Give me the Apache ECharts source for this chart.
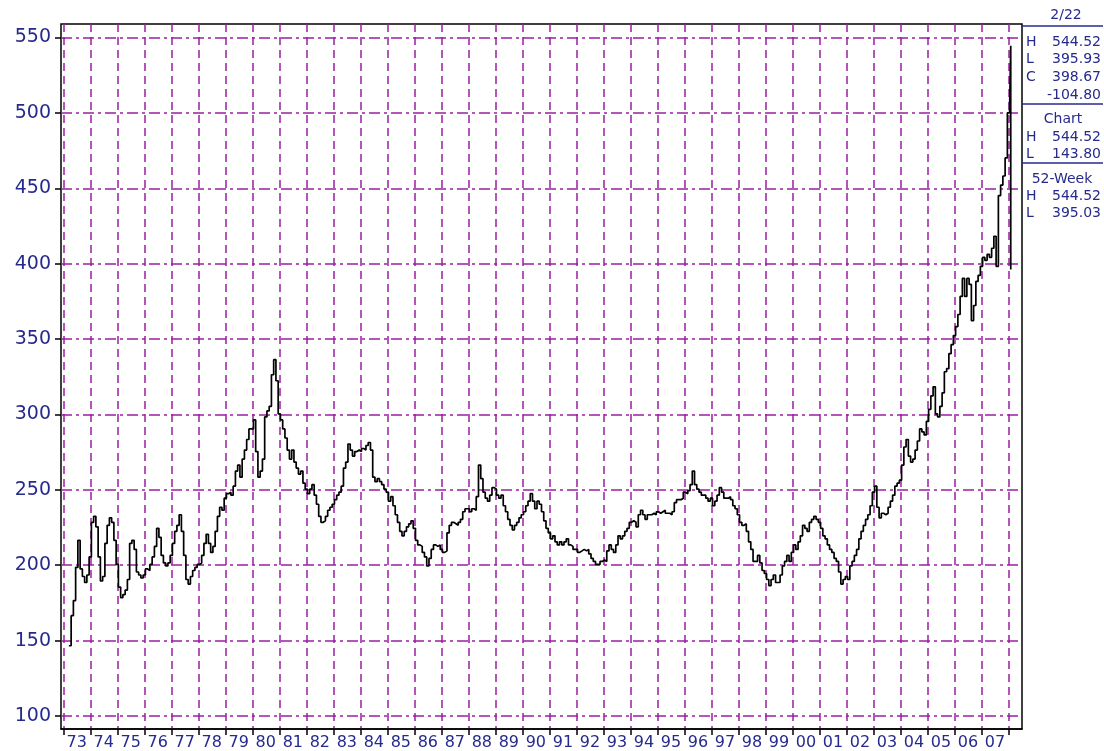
<!DOCTYPE html>
<html>
<head>
<meta charset="utf-8">
<script src="https://cdn.jsdelivr.net/npm/echarts@6/dist/echarts.min.js"></script>
<style>
  html, body { margin: 0; padding: 0; background: #fff; }
  #main { width: 1104px; height: 751px; }
</style>
</head>
<body>
<div id="main"></div>
<script>
// monthly index values, Jan of first year to Dec of last year
var close1970s = [
  null, null, null, 146, 166, 176, 198, 216, 197, 192, 188, 193,   // 73
  205, 228, 232, 225, 205, 189, 192, 214, 226, 231, 228, 216,      // 74
  200, 185, 178, 180, 183, 190, 214, 216, 210, 195, 193, 191,      // 75
  193, 197, 196, 200, 205, 212, 224, 218, 206, 201, 199, 201,      // 76
  206, 214, 222, 226, 233, 222, 206, 190, 187, 192, 196, 198,      // 77
  200, 201, 206, 214, 220, 214, 208, 212, 222, 232, 238, 236,      // 78
  244, 247, 248, 246, 252, 262, 266, 258, 270, 276, 283, 290       // 79
];
var close1980s = [
  290, 296, 275, 258, 262, 270, 298, 302, 305, 326, 336, 322,
  300, 296, 290, 284, 276, 270, 276, 268, 264, 260, 262, 254,
  250, 247, 250, 253, 246, 240, 232, 228, 229, 232, 236, 238,
  240, 243, 246, 248, 252, 264, 268, 280, 276, 272, 275, 276,
  275, 277, 276, 279, 281, 276, 258, 255, 257, 255, 253, 250,
  248, 242, 245, 239, 233, 228, 222, 219, 222, 225, 227, 229,
  224, 216, 213, 212, 208, 205, 199, 204, 210, 213, 212, 213,
  210, 208, 209, 221, 226, 228, 227, 226, 228, 230, 235, 237,
  237, 235, 237, 236, 245, 266, 257, 248, 244, 242, 246, 251,
  250, 246, 244, 246, 239, 235, 230, 226, 223, 226, 228, 231
];
var close1990s = [
  233, 235, 239, 242, 247, 242, 237, 242, 240, 235, 229, 224,
  221, 217, 219, 215, 213, 215, 213, 215, 217, 213, 212, 210,
  210, 208, 209, 210, 209, 210, 207, 204, 202, 200, 200, 202,
  203, 202, 209, 213, 210, 208, 213, 219, 217, 219, 222, 224,
  228, 229, 228, 225, 233, 236, 233, 230, 233, 233, 234, 233,
  235, 234, 235, 236, 234, 234, 233, 235, 241, 243, 243, 244,
  248, 247, 249, 253, 262, 253, 250, 248, 246, 246, 244, 242,
  244, 239, 242, 246, 251, 248, 244, 244, 245, 243, 239, 237,
  233, 228, 226, 227, 222, 215, 210, 202, 202, 206, 201, 196,
  194, 190, 186, 190, 193, 188, 188, 193, 199, 202, 206, 202
];
var close2000s = [
  208, 213, 210, 215, 219, 226, 224, 222, 228, 230, 232, 230,
  228, 224, 219, 217, 213, 210, 208, 204, 202, 195, 187, 190,
  192, 190, 199, 202, 206, 210, 217, 222, 226, 230, 233, 239,
  248, 252, 238, 231, 234, 233, 234, 238, 242, 246, 252, 254,
  256, 266, 278, 283, 272, 268, 270, 276, 282, 290, 288, 286,
  295, 303, 312, 318, 300, 298, 305, 314, 328, 330, 340, 346,
  352, 358, 366, 378, 390, 378, 390, 386, 362, 372, 388, 392,
  398, 404, 402, 406, 404, 410, 418, 398, 445, 452, 458, 470,
  500
];
// last bar (2/22): open estimate, high, low, close
var lastBarMonth = "2008-02";
var lastBar = [505, 544.52, 395.93, 398.67];

// info box values
var dayLabel = "2/22";
var dayValues = [544.52, 395.93, 398.67];
var dayChange = -104.80;
var chartRange = [544.52, 143.80];
var weekRange = [544.52, 395.03];

var yTicks = [100, 550, 50]; // min, max, step

// month categories Dec 1972 .. Jul 2008
var months = [];
for (var y = 1972; y <= 2008; y++) {
  for (var m = 1; m <= 12; m++) {
    var k = y * 12 + m;
    if (k < 1972 * 12 + 12 || k > 2008 * 12 + 7) continue;
    months.push(y + "-" + (m < 10 ? "0" + m : m));
  }
}

var closes = [null].concat(close1970s, close1980s, close1990s, close2000s);
var lineData = closes.map(function(v, i) {
  return [months[i], v];
});
lastBar.forEach(function(v) {
  lineData.push([lastBarMonth, v]);
});

var navy = "#262a8c";
var purple = "#9a1ea2";

var chart = echarts.init(document.getElementById("main"));

var pxPerUnit = (716 - 37.5) / (yTicks[1] - yTicks[0]);
var yMin0 = yTicks[0] - (730 - 716) / pxPerUnit;
var yMax0 = yTicks[1] + (37.5 - 24) / pxPerUnit;

function txt(x, y, s, align) {
  return {
    type: "text",
    x: x,
    y: y,
    style: {
      text: s,
      fill: navy,
      font: "14px 'DejaVu Sans'",
      textAlign: align,
      textVerticalAlign: "middle"
    },
    z: 10
  };
}
function hline(y) {
  return {
    type: "line",
    shape: { x1: 1022, y1: y, x2: 1103, y2: y },
    style: { stroke: navy, lineWidth: 1.5 },
    z: 10
  };
}

var letters = ["H", "L", "C"];
var graphics = [
  hline(26),
  txt(1066, 15, dayLabel, "center")
];
dayValues.forEach(function(v, i) {
  graphics.push(txt(1026, 42 + i * 17.5, letters[i], "left"));
  graphics.push(txt(1101, 42 + i * 17.5, v.toFixed(2), "right"));
});
graphics.push(txt(1101, 95, dayChange.toFixed(2), "right"));
graphics.push(hline(104));
graphics.push(txt(1063, 119, "Chart", "center"));
chartRange.forEach(function(v, i) {
  graphics.push(txt(1026, 137 + i * 17.5, letters[i], "left"));
  graphics.push(txt(1101, 137 + i * 17.5, v.toFixed(2), "right"));
});
graphics.push(hline(163));
graphics.push(txt(1062, 179, "52-Week", "center"));
weekRange.forEach(function(v, i) {
  graphics.push(txt(1026, 196 + i * 17.5, letters[i], "left"));
  graphics.push(txt(1101, 196 + i * 17.5, v.toFixed(2), "right"));
});

function isJan(idx, val) {
  return val.slice(5) === "01";
}
function isJul(idx, val) {
  // the last category sits on the right border, no label there
  return val.slice(5) === "07" && idx < months.length - 1;
}

chart.setOption({
  animation: false,
  backgroundColor: "#fff",
  grid: [
    {
      left: 61, right: 82, top: 24, bottom: 21,
      show: true, borderColor: "#000", borderWidth: 1.5,
      backgroundColor: "transparent"
    },
    { left: 61, right: 82, top: 37.5, bottom: 35 }
  ],
  xAxis: [
    {
      type: "category",
      gridIndex: 0,
      data: months,
      boundaryGap: false,
      axisLine: { show: true, lineStyle: { color: "#000", width: 1.5 } },
      axisTick: {
        show: true, interval: isJan, length: 6,
        lineStyle: { color: "#000", width: 1.5 }
      },
      axisLabel: {
        interval: isJul,
        margin: 6,
        color: navy,
        fontSize: 16,
        fontFamily: "DejaVu Sans",
        formatter: function(v) { return v.slice(2, 4); }
      },
      splitLine: {
        show: true, interval: isJan,
        lineStyle: { color: purple, width: 1.5, type: [8, 5] }
      }
    },
    { type: "value", gridIndex: 1, show: false, min: 0, max: 1 }
  ],
  yAxis: [
    {
      type: "value", gridIndex: 0, min: yMin0, max: yMax0,
      show: false, splitLine: { show: false }
    },
    {
      type: "value", gridIndex: 1,
      min: yTicks[0], max: yTicks[1], interval: yTicks[2],
      axisLine: { show: false },
      axisTick: { show: true, length: 6, lineStyle: { color: "#000", width: 1.5 } },
      axisLabel: {
        margin: 10, color: navy, fontSize: 19, fontFamily: "DejaVu Sans"
      },
      splitLine: {
        show: true,
        lineStyle: { color: purple, width: 1.5, type: [11, 4, 3, 4] }
      }
    }
  ],
  series: [
    {
      type: "line",
      xAxisIndex: 0,
      yAxisIndex: 0,
      data: lineData,
      step: "middle",
      showSymbol: false,
      symbol: "none",
      lineStyle: { color: "#000", width: 1.7 },
      z: 5
    }
  ],
  graphic: graphics
});
</script>
</body>
</html>
